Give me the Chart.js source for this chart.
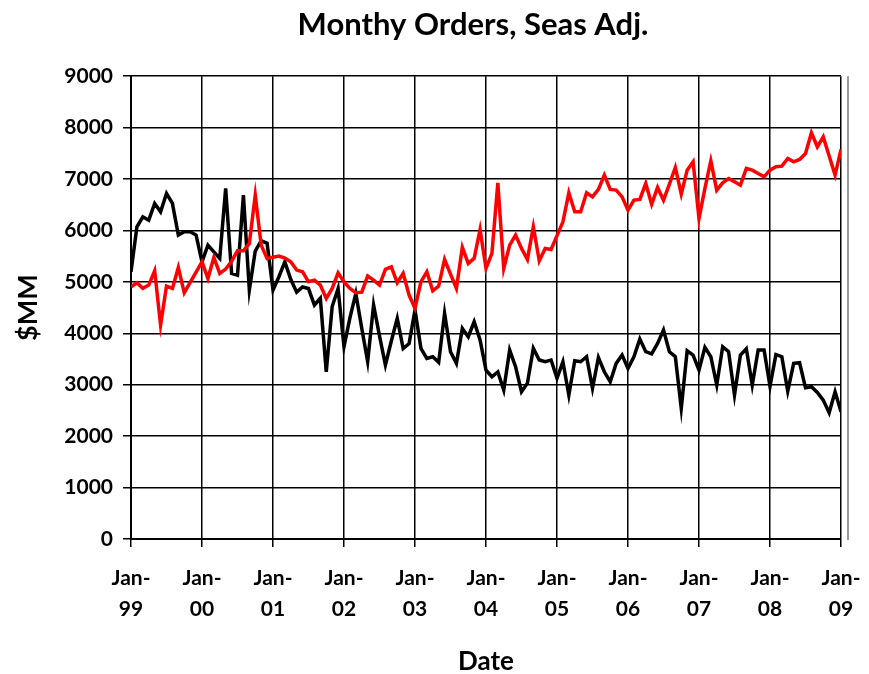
<!DOCTYPE html>
<html>
<head>
<meta charset="utf-8">
<script src="https://cdn.jsdelivr.net/npm/chart.js@4/dist/chart.umd.min.js"></script>
<style>
html,body{margin:0;padding:0;background:#ffffff;}
#wrap{width:869px;height:674px;}
</style>
</head>
<body>
<div id="wrap"><canvas id="c" width="869" height="674"></canvas></div>
<script>
// Tick labels for the x axis (one per January)
const yearLabels = ['99','00','01','02','03','04','05','06','07','08','09'];
const yTickValues = [0,1000,2000,3000,4000,5000,6000,7000,8000,9000];

// Monthly values, Jan-99 .. Jan-09 (black series)
const black1999 = [5196,6072,6266,6200,6525,6363,6720,6525,5910,5975,5975,5910];
const black2000 = [5390,5715,5585,5457,6818,5165,5130,6687,4840,5600,5800,5750];
const black2001 = [4840,5100,5390,5050,4800,4900,4870,4550,4680,3250,4520,4870];
const black2002 = [3740,4300,4776,4100,3450,4550,3950,3383,3850,4290,3705,3800];
const black2003 = [4452,3707,3513,3545,3435,4388,3642,3415,4096,3933,4225,3870];
const black2004 = [3285,3155,3250,2897,3674,3350,2864,3030,3707,3480,3450,3480];
const black2005 = [3124,3447,2800,3466,3447,3544,2930,3530,3252,3058,3415,3577];
const black2006 = [3318,3544,3888,3642,3600,3804,4063,3642,3544,2540,3660,3577];
const black2007 = [3285,3726,3545,2994,3739,3642,2800,3577,3700,2994,3674,3674];
const black2008 = [2968,3585,3545,2874,3415,3428,2940,2962,2850,2702,2455,2864];
const black2009 = [2475];

// Monthly values, Jan-99 .. Jan-09 (red series)
const red1999 = [4905,4983,4874,4938,5216,4160,4918,4874,5281,4788,4990,5190];
const red2000 = [5390,5068,5476,5165,5250,5400,5605,5605,5748,6687,5715,5457];
const red2001 = [5480,5502,5463,5390,5230,5197,5002,5035,4938,4680,4874,5177];
const red2002 = [5000,4874,4788,4800,5113,5035,4938,5243,5294,4983,5165,4744];
const red2003 = [4485,5002,5197,4827,4918,5437,5150,4874,5670,5359,5457,6021];
const red2004 = [5262,5554,6927,5262,5715,5910,5651,5437,6072,5410,5651,5630];
const red2005 = [5900,6168,6732,6363,6363,6732,6654,6798,7076,6798,6785,6654];
const red2006 = [6395,6590,6603,6915,6512,6837,6590,6900,7225,6706,7173,7335];
const red2007 = [6234,6817,7355,6784,6927,7011,6946,6881,7206,7173,7108,7043];
const red2008 = [7173,7238,7251,7400,7335,7380,7497,7900,7627,7820,7450,7076];
const red2009 = [7575];

const blackSeries = [].concat(black1999,black2000,black2001,black2002,black2003,black2004,black2005,black2006,black2007,black2008,black2009);
const redSeries = [].concat(red1999,red2000,red2001,red2002,red2003,red2004,red2005,red2006,red2007,red2008,red2009);

const toPoints = arr => arr.map((v,i)=>({x:i,y:v}));
const FONT = 'Lato, "Open Sans", "Liberation Sans", sans-serif';

const rightBorder = {
  id:'rightBorder',
  afterDraw(chart){
    const {ctx, chartArea:a} = chart;
    ctx.save();
    ctx.strokeStyle = '#9a9a9a';
    ctx.lineWidth = 2;
    ctx.beginPath();
    ctx.moveTo(a.right+7, a.top);
    ctx.lineTo(a.right+7, a.bottom+1);
    ctx.stroke();
    ctx.restore();
  }
};

new Chart(document.getElementById('c'), {
  type:'line',
  data:{
    datasets:[
      {label:'Series 1', data:toPoints(blackSeries), borderColor:'#000000', backgroundColor:'#000000', borderWidth:3.5, pointRadius:0, tension:0, order:2},
      {label:'Series 2', data:toPoints(redSeries), borderColor:'#ff0000', backgroundColor:'#ff0000', borderWidth:3.5, pointRadius:0, tension:0, order:1}
    ]
  },
  options:{
    responsive:false,
    animation:false,
    layout:{padding:{left:0,right:-77,top:0,bottom:0}},
    plugins:{
      legend:{display:false},
      tooltip:{enabled:false},
      title:{display:true, text:'Monthy Orders, Seas Adj.', color:'#000', font:{family:FONT, size:31, weight:'bold'}, padding:{top:6,bottom:33}}
    },
    scales:{
      x:{
        type:'linear', min:0, max:120,
        afterFit(s){ s.height = 135; s.paddingLeft = 0; s.paddingRight = 0; },
        afterBuildTicks(s){ s.ticks = yearLabels.map((y,i)=>({value:i*12})); },
        ticks:{
          color:'#000', autoSkip:false, maxRotation:0, padding:15,
          font:{family:FONT, size:21, weight:'bold', lineHeight:1.5},
          callback:(v)=>['Jan-', yearLabels[Math.round(v/12)]]
        },
        grid:{color:'#000', lineWidth:1.5, tickLength:8, drawTicks:true},
        border:{color:'#000', width:2},
        title:{display:true, text:'Date', color:'#000', font:{family:FONT, size:26, weight:'bold'}, padding:{top:0,bottom:-3}}
      },
      y:{
        type:'linear', min:0, max:9000,
        afterFit(s){ s.width = 131; },
        afterBuildTicks(s){ s.ticks = yTickValues.map(v=>({value:v})); },
        ticks:{color:'#000', padding:10, font:{family:FONT, size:21, weight:'bold'}, callback:(v)=>String(v)},
        grid:{color:'#000', lineWidth:1.5, tickLength:8},
        border:{color:'#000', width:2},
        title:{display:true, text:'$MM', color:'#000', font:{family:FONT, size:27, weight:'bold'}, padding:{top:12,bottom:0}}
      },
      ySpacer:{
        type:'linear', position:'right', min:0, max:9000,
        afterFit(s){ s.width = 105; },
        ticks:{display:false},
        grid:{display:false, drawOnChartArea:false},
        border:{display:false}
      }
    }
  },
  plugins:[rightBorder]
});
</script>
</body>
</html>
